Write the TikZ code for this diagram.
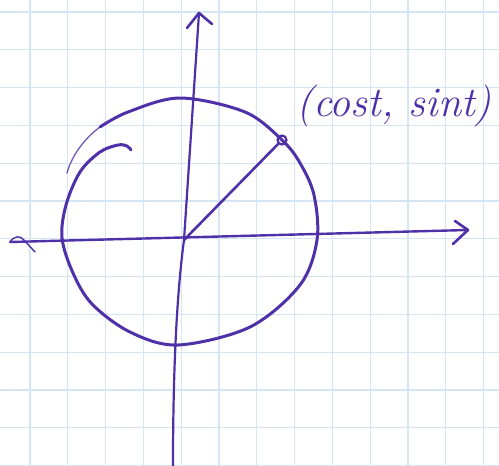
\documentclass[tikz,border=0pt]{standalone}
\usepackage{fontspec}
\definecolor{ink}{RGB}{78,48,168}
\definecolor{gridblue}{RGB}{212,229,244}
\tikzset{
  pen/.style={draw=ink, line width=3pt, line cap=round, line join=round},
  thinpen/.style={draw=ink, line width=1.4pt, line cap=round},
  paper/.style={draw=gridblue, line width=1.3pt}
}
\begin{document}
\begin{tikzpicture}[x=1pt,y=-1pt]
\useasboundingbox (0,0) rectangle (499,466);
\fill[white] (0,0) rectangle (499,466);
% grid
\foreach \k in {0,...,12} {
  \draw[paper] ({30+37.8*\k},0) -- ({30+37.8*\k},466);
}
\foreach \k in {0,...,12} {
  \draw[paper] (0,{12+37.8*\k}) -- (499,{12+37.8*\k});
}
% named points
\coordinate (O) at (184,240);
\coordinate (xl) at (10,242);
\coordinate (xr) at (468,230);
\coordinate (yb) at (173,466);
\coordinate (yt) at (199,13);
\node[circle, draw=ink, line width=2.2pt, inner sep=0pt, minimum size=9pt] (P) at (282,140) {};
% horizontal axis
\draw[pen, line width=2.4pt] (xl) -- (xr);
\draw[pen, line width=2.6pt] (455,221) -- (xr) -- (453,244);
\draw[thinpen] (xl) .. controls (14,236) and (20,235) .. (24,240) -- (35,252);
% vertical axis
\draw[pen, line width=2.2pt] (yb) .. controls (173,380) and (176,300) .. (O) -- (yt);
\draw[pen, line width=2.6pt] (187,28) -- (yt) -- (212,24);
% circle / spiral
\draw[pen] plot[smooth, tension=0.55] coordinates {
 (131,150) (127,146) (118,145) (100,152) (80,172) (66,205) (62,238)
 (73,273) (92,304) (130,332) (178,345) (250,327)
 (300,285) (317,240) (314,195) (300,163) (282,140)
 (245,112) (180,98) (128,112) (100,127)};
\draw[ink, line width=1.3pt, opacity=0.8, line cap=round] (100,127) .. controls (85,138) and (72,155) .. (67,173);
% radius
\draw[pen, line width=2.6pt] (O) -- (P);
% label
\node[text=ink, font=\fontsize{42}{46}\selectfont\itshape, anchor=center] (lbl) at (394,106) {(cost, sint)};
\end{tikzpicture}
\end{document}
